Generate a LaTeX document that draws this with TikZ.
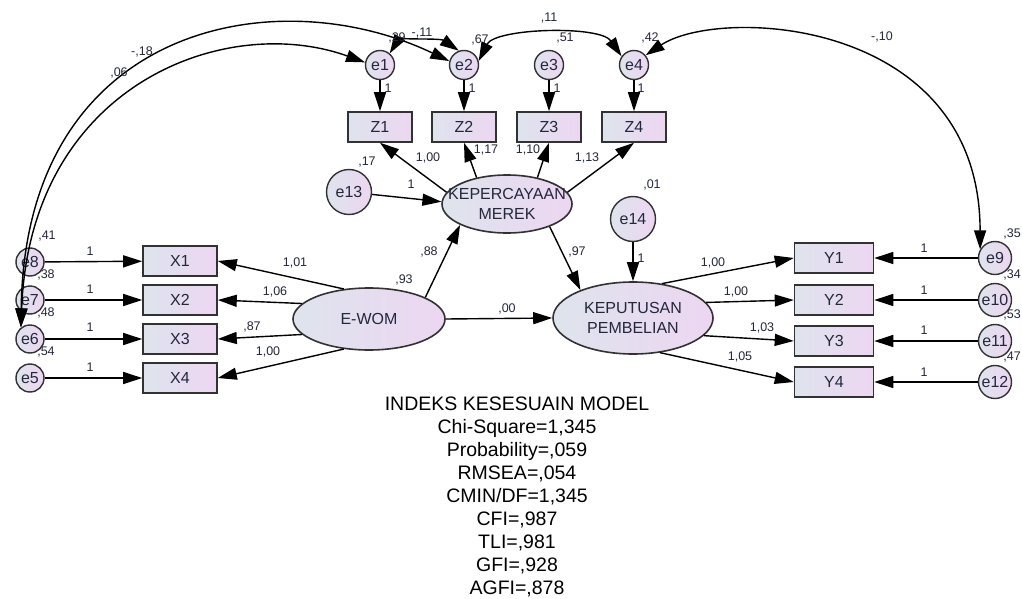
\documentclass[tikz,border=0pt]{standalone}
\usepackage{fontspec}
\setmainfont{Liberation Sans}
\usetikzlibrary{shapes.geometric,arrows.meta}
\definecolor{txt}{RGB}{35,40,60}
\definecolor{gL}{RGB}{222,228,236}
\definecolor{gR}{RGB}{237,214,242}
\definecolor{bord}{RGB}{50,50,50}
\begin{document}
\begin{tikzpicture}[x=1pt,y=-1pt,
  box/.style={rectangle, draw=bord, line width=1.6pt, left color=gL, right color=gR,
    minimum height=30pt, inner sep=0pt, text=txt, font=\fontsize{16}{16}\selectfont},
  ecirc/.style={circle, draw=bord, line width=1.4pt, left color=gL, right color=gR,
    inner sep=0pt, text=txt, font=\fontsize{16}{16}\selectfont},
  lat/.style={ellipse, draw=bord, line width=1.6pt, left color=gL, right color=gR, inner sep=0pt},
  lattext/.style={align=center, text=txt, inner sep=0pt, font=\fontsize{16}{20}\selectfont},
  lab/.style={font=\fontsize{12.5}{12.5}\selectfont, text=txt, inner sep=0pt},
  arr/.style={line width=1.4pt, -{Triangle[length=19pt,width=12pt]}},
  cov/.style={line width=1.4pt, {Triangle[length=19pt,width=12pt]}-{Triangle[length=19pt,width=12pt]}}
]
\useasboundingbox[fill=white] (0,0) rectangle (1022,599);

% Z indicators and errors
\node[box, minimum width=64pt] (z1) at (380,127) {Z1};
\node[box, minimum width=64pt] (z2) at (464,127) {Z2};
\node[box, minimum width=64pt] (z3) at (549,127) {Z3};
\node[box, minimum width=64pt] (z4) at (634,127) {Z4};
\node[ecirc, minimum size=29pt] (e1) at (380,65) {e1};
\node[ecirc, minimum size=29pt] (e2) at (464,65) {e2};
\node[ecirc, minimum size=29pt] (e3) at (549,65) {e3};
\node[ecirc, minimum size=29pt] (e4) at (634,65) {e4};

% latent variables
\node[lat, minimum width=130pt, minimum height=58pt] (kep1) at (507,204) {};
\node[lattext] (kep1t) at (507,204) {KEPERCAYAAN\\MEREK};
\node[lat, minimum width=152pt, minimum height=62pt] (ewom) at (369,319) {};
\node[lattext] (ewomt) at (369,319) {E-WOM};
\node[lat, minimum width=160pt, minimum height=72pt] (kep2) at (633,318) {};
\node[lattext] (kep2t) at (633,318) {KEPUTUSAN\\PEMBELIAN};
\node[ecirc, minimum size=45pt] (e13) at (349,192) {e13};
\node[ecirc, minimum size=45pt] (e14) at (633,219) {e14};

% X indicators
\node[box, minimum width=74pt] (x1) at (180,261) {X1};
\node[box, minimum width=74pt] (x2) at (180,300) {X2};
\node[box, minimum width=74pt] (x3) at (180,339) {X3};
\node[box, minimum width=74pt] (x4) at (180,378) {X4};
\node[ecirc, minimum size=28pt] (e8) at (30,262) {e8};
\node[ecirc, minimum size=28pt] (e7) at (30,300) {e7};
\node[ecirc, minimum size=28pt] (e6) at (30,339) {e6};
\node[ecirc, minimum size=28pt] (e5) at (30,378) {e5};

% Y indicators
\node[box, minimum width=79pt] (y1) at (834,258) {Y1};
\node[box, minimum width=79pt] (y2) at (834,300) {Y2};
\node[box, minimum width=79pt] (y3) at (834,341) {Y3};
\node[box, minimum width=79pt] (y4) at (834,382) {Y4};
\node[ecirc, minimum size=33pt] (e9) at (995,258) {e9};
\node[ecirc, minimum size=33pt] (e10) at (995,300) {e10};
\node[ecirc, minimum size=33pt] (e11) at (995,341) {e11};
\node[ecirc, minimum size=33pt] (e12) at (995,382) {e12};

% paths
\draw[arr] (e1) -- (z1);
\draw[arr] (e2) -- (z2);
\draw[arr] (e3) -- (z3);
\draw[arr] (e4) -- (z4);
\draw[arr] (kep1.169) -- (z1.south);
\draw[arr] (kep1.139) -- (z2.south);
\draw[arr] (kep1.41) -- (z3.south);
\draw[arr] (kep1.11) -- (z4.south);
\draw[arr] (e13) -- (kep1.178);
\draw[arr] (ewom.130) -- (x1.east);
\draw[arr] (ewom.167) -- (x2.east);
\draw[arr] (ewom.193) -- (x3.east);
\draw[arr] (ewom.230) -- (x4.east);
\draw[arr] (e8) -- (x1);
\draw[arr] (e7) -- (x2);
\draw[arr] (e6) -- (x3);
\draw[arr] (e5) -- (x4);
\draw[arr] (ewom.21) -- (kep1.204);
\draw[arr] (ewom.east) -- (kep2.west);
\draw[arr] (kep1.-28) -- (kep2.152);
\draw[arr] (e14) -- (kep2.north);
\draw[arr] (kep2.50) -- (y1.west);
\draw[arr] (kep2.12) -- (y2.west);
\draw[arr] (kep2.-14) -- (y3.west);
\draw[arr] (kep2.-52) -- (y4.west);
\draw[arr] (e9) -- (y1);
\draw[arr] (e10) -- (y2);
\draw[arr] (e11) -- (y3);
\draw[arr] (e12) -- (y4);

% covariances
\draw[cov] (e6.128) .. controls (25,25) and (275,-22) .. (e2.165);
\draw[cov] (e6.128) .. controls (30,85) and (225,12) .. (e1.170);
\draw[cov] (e1.50) .. controls (398,40) and (440,38) .. (e2.110);
\draw[cov] (e2.15) .. controls (495,28) and (600,25) .. (e4.145);
\draw[cov] (e4.40) .. controls (720,6) and (980,18) .. (e9.150);

% labels
\node[lab] (l1) at (397,38) {,29};
\node[lab] (l2) at (422,33) {-,11};
\node[lab] (l3) at (480,40) {,67};
\node[lab] (l4) at (565,38) {,51};
\node[lab] (l5) at (549,18) {,11};
\node[lab] (l6) at (650,38) {,42};
\node[lab] (l7) at (882,37) {-,10};
\node[lab] (l8) at (142,52) {-,18};
\node[lab] (l9) at (119,73) {,06};
\node[lab] (l10) at (388,88) {1};
\node[lab] (l11) at (472,88) {1};
\node[lab] (l12) at (557,88) {1};
\node[lab] (l13) at (641,88) {1};
\node[lab] (l14) at (428,158) {1,00};
\node[lab] (l15) at (486,150) {1,17};
\node[lab] (l16) at (528,150) {1,10};
\node[lab] (l17) at (587,158) {1,13};
\node[lab] (l18) at (367,162) {,17};
\node[lab] (l19) at (411,184) {1};
\node[lab] (l20) at (652,185) {,01};
\node[lab] (l21) at (429,252) {,88};
\node[lab] (l22) at (577,252) {,97};
\node[lab] (l23) at (47,236) {,41};
\node[lab] (l24) at (46,275) {,38};
\node[lab] (l25) at (46,313) {,48};
\node[lab] (l26) at (46,352) {,54};
\node[lab] (l27) at (90,251) {1};
\node[lab] (l28) at (90,289) {1};
\node[lab] (l29) at (90,327) {1};
\node[lab] (l30) at (90,367) {1};
\node[lab] (l31) at (295,263) {1,01};
\node[lab] (l32) at (275,292) {1,06};
\node[lab] (l33) at (252,327) {,87};
\node[lab] (l34) at (268,352) {1,00};
\node[lab] (l35) at (404,280) {,93};
\node[lab] (l36) at (507,309) {,00};
\node[lab] (l37) at (641,258) {1};
\node[lab] (l38) at (713,263) {1,00};
\node[lab] (l39) at (736,292) {1,00};
\node[lab] (l40) at (762,328) {1,03};
\node[lab] (l41) at (740,357) {1,05};
\node[lab] (l42) at (924,248) {1};
\node[lab] (l43) at (924,290) {1};
\node[lab] (l44) at (924,330) {1};
\node[lab] (l45) at (924,372) {1};
\node[lab] (l46) at (1012,234) {,35};
\node[lab] (l47) at (1012,275) {,34};
\node[lab] (l48) at (1012,315) {,53};
\node[lab] (l49) at (1012,357) {,47};

% fit indices
\node[anchor=north, align=center, inner sep=0pt, text=black,
  font=\fontsize{19.5}{22.9}\selectfont] (fit) at (517,397)
  {INDEKS KESESUAIN MODEL\\Chi-Square=1,345\\Probability=,059\\RMSEA=,054\\CMIN/DF=1,345\\CFI=,987\\TLI=,981\\GFI=,928\\AGFI=,878};
\end{tikzpicture}
\end{document}
